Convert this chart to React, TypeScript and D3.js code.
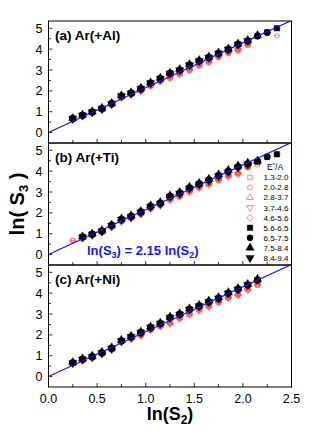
import React from 'react';
import * as d3 from 'd3';

// ln(S2) bin centres shared by all panels
const lnS2Bins = [0.25, 0.35, 0.45, 0.55, 0.65, 0.75, 0.85, 0.95, 1.05, 1.15, 1.25, 1.35, 1.45, 1.55, 1.65, 1.75, 1.85, 1.95, 2.05, 2.15, 2.25, 2.35];
const energyBins = ['1.3-2.0', '2.0-2.8', '2.8-3.7', '3.7-4.6', '4.6-5.6', '5.6-6.5', '6.5-7.5', '7.5-8.4', '8.4-9.4'];
const markerShapes = ['square', 'circle', 'triangle', 'triangleDown', 'diamond', 'square', 'circle', 'triangle', 'triangleDown'];
const markerFilled = [false, false, false, false, false, true, true, true, true];
const panelNames = ['(a) Ar(+Al)', '(b) Ar(+Ti)', '(c) Ar(+Ni)'];
const fitSlope = 2.15;
const xTicks = [0, 0.5, 1, 1.5, 2, 2.5];
const yTicks = [0, 1, 2, 3, 4, 5];
const xErr = 0.035;
const yErr = 0.14;

// ln(S3) per energy bin, one row per bin (null = no point)
const lnS3Al = [
  [0.62, 0.77, 0.92, 1.08, 1.31, 1.66, 1.80, 1.97, 2.22, 2.44, 2.60, 2.78, 2.98, 3.20, 3.36, 3.60, 3.80, 3.94, 4.18, null, null, null],
  [0.64, 0.79, 0.94, 1.10, 1.34, 1.69, 1.83, 1.99, 2.25, 2.47, 2.63, 2.81, 3.01, 3.23, 3.39, 3.63, 3.83, 3.97, 4.21, null, null, 4.64],
  [null, null, 0.95, 1.11, 1.35, 1.70, 1.84, 2.01, 2.27, 2.49, 2.66, 2.84, 3.04, 3.26, 3.42, 3.66, 3.86, 4.00, 4.24, null, null, null],
  [0.63, 0.78, 0.93, 1.09, 1.32, 1.67, 1.81, 1.98, 2.23, 2.45, 2.62, 2.80, 2.99, 3.21, 3.37, 3.61, 3.81, 3.95, null, null, null, null],
  [null, 0.80, 0.96, 1.12, 1.36, 1.71, 1.85, 2.02, 2.28, 2.50, 2.67, 2.86, 3.06, 3.28, 3.44, 3.68, 3.88, 4.02, 4.22, null, null, null],
  [0.67, 0.83, 0.99, 1.15, 1.39, 1.76, 1.90, 2.11, 2.38, 2.59, 2.84, 3.00, 3.24, 3.44, 3.60, 3.80, 3.99, 4.23, 4.40, 4.64, 4.81, 5.00],
  [0.68, 0.84, 1.00, 1.16, 1.40, 1.74, 1.89, 2.09, 2.36, 2.57, 2.82, 2.98, 3.22, 3.42, 3.58, 3.78, 3.97, 4.21, 4.38, 4.62, 4.79, null],
  [0.69, 0.85, 1.01, 1.17, 1.41, 1.78, 1.92, 2.13, 2.40, 2.62, 2.86, 3.03, 3.27, 3.47, 3.63, 3.83, 4.02, 4.26, 4.43, 4.66, null, null],
  [0.66, 0.82, 0.98, 1.14, 1.38, 1.75, 1.88, 2.10, 2.37, 2.58, 2.83, 2.99, 3.23, 3.43, 3.59, 3.79, 3.98, 4.22, 4.39, null, null, null],
];
const lnS3Ti = [
  [0.66, 0.78, 0.92, 1.06, 1.31, 1.58, 1.74, 1.92, 2.19, 2.35, 2.61, 2.77, 3.00, 3.20, 3.35, 3.56, 3.74, 3.87, 4.16, null, null, null],
  [0.68, 0.79, 0.93, 1.08, 1.33, 1.60, 1.76, 1.94, 2.21, 2.37, 2.63, 2.79, 3.02, 3.22, 3.37, 3.58, 3.76, 3.89, 4.18, 4.30, null, null],
  [null, 0.80, 0.94, 1.09, 1.34, 1.62, 1.78, 1.96, 2.23, 2.39, 2.66, 2.82, 3.05, 3.25, 3.40, 3.61, 3.79, 3.92, 4.20, null, null, null],
  [null, 0.77, 0.91, 1.05, 1.30, 1.57, 1.73, 1.91, 2.18, 2.34, 2.60, 2.76, 2.99, 3.19, 3.34, 3.55, 3.73, 3.86, null, null, null, null],
  [null, 0.81, 0.95, 1.10, 1.35, 1.63, 1.79, 1.97, 2.24, 2.41, 2.68, 2.84, 3.07, 3.27, 3.42, 3.63, 3.81, 3.94, 4.22, null, null, null],
  [null, 0.84, 0.97, 1.13, 1.40, 1.68, 1.83, 2.04, 2.31, 2.46, 2.78, 2.94, 3.19, 3.38, 3.57, 3.78, 3.98, 4.20, 4.34, 4.46, 4.68, 4.81],
  [null, 0.85, 0.98, 1.14, 1.41, 1.70, 1.85, 2.06, 2.33, 2.48, 2.80, 2.96, 3.21, 3.40, 3.59, 3.80, 4.00, 4.22, 4.36, 4.48, 4.70, null],
  [null, 0.86, 1.00, 1.16, 1.43, 1.72, 1.87, 2.08, 2.35, 2.51, 2.83, 2.99, 3.24, 3.43, 3.62, 3.84, 4.05, 4.26, 4.40, 4.50, null, null],
  [null, 0.83, 0.96, 1.12, 1.39, 1.67, 1.81, 2.02, 2.29, 2.44, 2.77, 2.92, 3.17, 3.36, 3.55, 3.76, 3.96, 4.18, 4.32, null, null, null],
];
const lnS3Ni = [
  [0.63, 0.76, 0.89, 1.07, 1.29, 1.65, 1.80, 1.96, 2.22, 2.40, 2.54, 2.78, 2.98, 3.18, 3.35, 3.55, 3.76, 3.90, 4.16, 4.38, null, null],
  [0.64, 0.77, 0.90, 1.08, 1.30, 1.66, 1.82, 1.98, 2.24, 2.42, 2.56, 2.80, 3.00, 3.20, 3.37, 3.57, 3.78, 3.92, 4.18, 4.40, null, null],
  [0.66, 0.79, 0.92, 1.10, 1.32, 1.68, 1.84, 2.00, 2.26, 2.44, 2.59, 2.83, 3.03, 3.23, 3.40, 3.60, 3.81, 3.95, 4.21, 4.44, null, null],
  [null, 0.75, 0.88, 1.06, 1.28, 1.64, 1.79, 1.95, 2.21, 2.39, 2.53, 2.77, 2.97, 3.17, 3.34, 3.54, 3.75, 3.89, 4.15, null, null, null],
  [null, 0.78, 0.91, 1.09, 1.31, 1.67, 1.83, 1.99, 2.25, 2.43, 2.58, 2.82, 3.02, 3.22, 3.39, 3.59, 3.80, 3.94, 4.20, 4.42, null, null],
  [0.66, 0.83, 0.95, 1.14, 1.35, 1.72, 1.91, 2.12, 2.36, 2.55, 2.83, 2.99, 3.23, 3.39, 3.59, 3.76, 4.00, 4.19, 4.40, 4.64, null, null],
  [0.67, 0.84, 0.97, 1.15, 1.37, 1.70, 1.89, 2.10, 2.34, 2.53, 2.81, 2.97, 3.21, 3.37, 3.57, 3.74, 3.98, 4.17, 4.38, 4.60, null, null],
  [0.68, 0.86, 0.99, 1.17, 1.39, 1.75, 1.94, 2.15, 2.39, 2.58, 2.86, 3.02, 3.26, 3.43, 3.63, 3.80, 4.04, 4.23, 4.43, 4.68, null, null],
  [0.65, 0.82, 0.94, 1.13, 1.34, 1.71, 1.90, 2.11, 2.35, 2.54, 2.82, 2.98, 3.22, 3.38, 3.58, 3.75, 3.99, 4.18, 4.39, null, null, null],
];
const panelData = [lnS3Al, lnS3Ti, lnS3Ni];

const W = 324;
const H = 431;
const left = 48.5;
const right = 291.5;
const top = 21;
const panelH = 122;
const font = "'Liberation Sans', Arial, Helvetica, sans-serif";
const red = '#ff5050';
const blue = '#1414ff';

const x = d3.scaleLinear().domain([0, 2.5]).range([left, right]);

function symbolPath(shape: string, size: number) {
  const t = shape === 'square' ? d3.symbolSquare
    : shape === 'circle' ? d3.symbolCircle
    : shape === 'diamond' ? d3.symbolSquare
    : d3.symbolTriangle;
  return d3.symbol().type(t).size(size)() as string;
}
function symbolRot(shape: string) {
  if (shape === 'triangleDown') return 180;
  if (shape === 'diamond') return 45;
  return 0;
}

function Marker({ cx, cy, i, legend }: { cx: number; cy: number; i: number; legend?: boolean }) {
  const filled = markerFilled[i];
  const size = filled ? 30 : legend ? 20 : 17;
  return (
    <path
      d={symbolPath(markerShapes[i], size)}
      transform={`translate(${cx},${cy}) rotate(${symbolRot(markerShapes[i])})`}
      fill={filled ? '#000' : 'none'}
      stroke={filled ? '#000' : red}
      strokeWidth={filled ? 0.4 : 0.7}
    />
  );
}

function Panel({ k }: { k: number }) {
  const y0 = top + k * panelH;
  const y = d3.scaleLinear().domain([-0.5, 5.35]).range([y0 + panelH, y0]);
  const rows = panelData[k];
  const minorX = d3.range(0, 2.51, 0.25);
  const minorY = d3.range(0.5, 5, 1);
  const line = d3.line<number>().x(d => x(d)).y(d => y(fitSlope * d));
  return (
    <g>
      <defs>
        <clipPath id={`clip${k}`}>
          <rect x={left} y={y0} width={right - left} height={panelH} />
        </clipPath>
      </defs>
      <g clipPath={`url(#clip${k})`}>
        {rows.map((row, i) => (
          <g key={i}>
            {row.map((v, j) => v == null ? null : (
              <g key={j} stroke={markerFilled[i] ? '#000' : red} strokeWidth={markerFilled[i] ? 0.8 : 0.6}>
                <line x1={x(lnS2Bins[j] - xErr)} x2={x(lnS2Bins[j] + xErr)} y1={y(v)} y2={y(v)} />
                {markerFilled[i] && (
                  <line x1={x(lnS2Bins[j])} x2={x(lnS2Bins[j])} y1={y(v - yErr)} y2={y(v + yErr)} />
                )}
              </g>
            ))}
            {row.map((v, j) => v == null ? null : (
              <Marker key={'m' + j} cx={x(lnS2Bins[j])} cy={y(v)} i={i} />
            ))}
          </g>
        ))}
        <path d={line([0, 2.5]) as string} stroke={blue} strokeWidth={1.2} fill="none" />
      </g>
      <rect x={left} y={y0} width={right - left} height={panelH} fill="none" stroke="#000" strokeWidth={1} />
      {minorX.map(t => (
        <line key={'xt' + t} x1={x(t)} x2={x(t)} y1={y0 + panelH} y2={y0 + panelH - (Math.abs(t * 2 - Math.round(t * 2)) < 1e-6 ? 4 : 3)} stroke="#000" strokeWidth={0.8} />
      ))}
      {yTicks.map(t => (
        <g key={'yt' + t}>
          <line x1={left} x2={left + 4} y1={y(t)} y2={y(t)} stroke="#000" strokeWidth={0.8} />
          <text x={left - 6} y={y(t)} dy="0.36em" textAnchor="end" fontSize={12.5} fontFamily={font}>{t}</text>
        </g>
      ))}
      {minorY.map(t => (
        <line key={'ym' + t} x1={left} x2={left + 2.5} y1={y(t)} y2={y(t)} stroke="#000" strokeWidth={0.8} />
      ))}
      <text x={left + 6.5} y={y0 + 18.5} fontSize={13.5} fontWeight="bold" fontFamily={font}>{panelNames[k]}</text>
    </g>
  );
}

export default function App() {
  const bottom = top + 3 * panelH;
  const legendX = 250;
  const legendY = 177.5;
  const legendStep = 10.05;
  return (
    <svg width={W} height={H} style={{ position: 'absolute', left: 0, top: 0, background: '#fff' }}>
      {[0, 1, 2].map(k => <Panel key={k} k={k} />)}
      {xTicks.map(t => (
        <text key={t} x={x(t)} y={402.5} textAnchor="middle" fontSize={12.5} fontFamily={font}>{t.toFixed(1)}</text>
      ))}
      <text x={(left + right) / 2} y={420} textAnchor="middle" fontSize={18} fontWeight="bold" fontFamily={font}>
        ln(S<tspan fontSize={12} dy={4}>2</tspan><tspan dy={-4}>)</tspan>
      </text>
      <text transform={`translate(23.5,${(top + bottom) / 2}) rotate(-90)`} textAnchor="middle" fontSize={20} fontWeight="bold" fontFamily={font}>
        ln( S<tspan fontSize={13} dy={4}>3</tspan><tspan dy={-4}> )</tspan>
      </text>
      <text x={87} y={255} fontSize={13} fontWeight="bold" fill={blue} fontFamily={font}>
        ln(S<tspan fontSize={9} dy={3}>3</tspan><tspan dy={-3}>) = 2.15 ln(S</tspan><tspan fontSize={9} dy={3}>2</tspan><tspan dy={-3}>)</tspan>
      </text>
      <text x={267} y={170} fontSize={8.5} fontFamily={font}>
        E<tspan fontSize={6} dy={-3}>*</tspan><tspan dy={3}>/A</tspan>
      </text>
      {energyBins.map((e, i) => (
        <g key={e}>
          <Marker cx={legendX} cy={legendY + i * legendStep} i={i} legend />
          <text x={263.5} y={legendY + i * legendStep} dy="0.36em" fontSize={8} fontFamily={font}>{e}</text>
        </g>
      ))}
    </svg>
  );
}
